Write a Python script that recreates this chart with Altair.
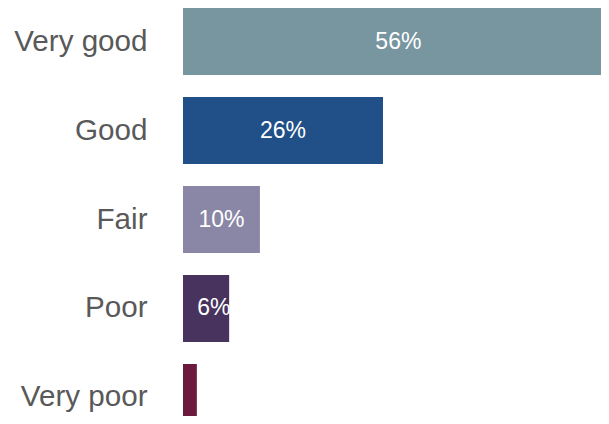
import altair as alt
import pandas as pd

categories = ["Very good", "Good", "Fair", "Poor", "Very poor"]
values = [56, 26, 10, 6, 1.8]
labels = ["56%", "26%", "10%", "6%", ""]
colors = ["#7796a0", "#215088", "#8a87a6", "#48335f", "#6b1a3e"]

df = pd.DataFrame({"category": categories, "value": values, "label": labels})

y_enc = alt.Y("category:N", sort=categories, title=None,
              scale=alt.Scale(paddingInner=0.247, paddingOuter=0, range=[0, 423]),
              axis=alt.Axis(ticks=False, domain=False, labelPadding=36,
                            labelFontSize=29.6, labelColor="#595959",
                            labelFont="Liberation Sans", labelLimit=300))
x_scale = alt.Scale(domain=[0, 26 * 418 / 200], nice=False, zero=True)

bars = alt.Chart(df).mark_bar(cornerRadius=0).encode(
    y=y_enc,
    x=alt.X("value:Q", scale=x_scale, axis=None),
    color=alt.Color("category:N", sort=categories,
                    scale=alt.Scale(domain=categories, range=colors), legend=None),
)

text = alt.Chart(df).transform_calculate(
    pos="max(datum.value / 2, 4)"
).mark_text(color="white", fontSize=23, font="Liberation Sans",
            align="center", baseline="middle").encode(
    y=alt.Y("category:N", sort=categories),
    x=alt.X("pos:Q", scale=x_scale),
    text="label:N",
)

chart = (bars + text).properties(
    width=418, height=408,
    autosize=alt.AutoSizeParams(type="none"),
    padding={"left": 175, "top": 0, "right": 0, "bottom": 0},
).configure_view(stroke=None)

chart.save("out.html", embed_options={"renderer": "svg", "actions": False})
